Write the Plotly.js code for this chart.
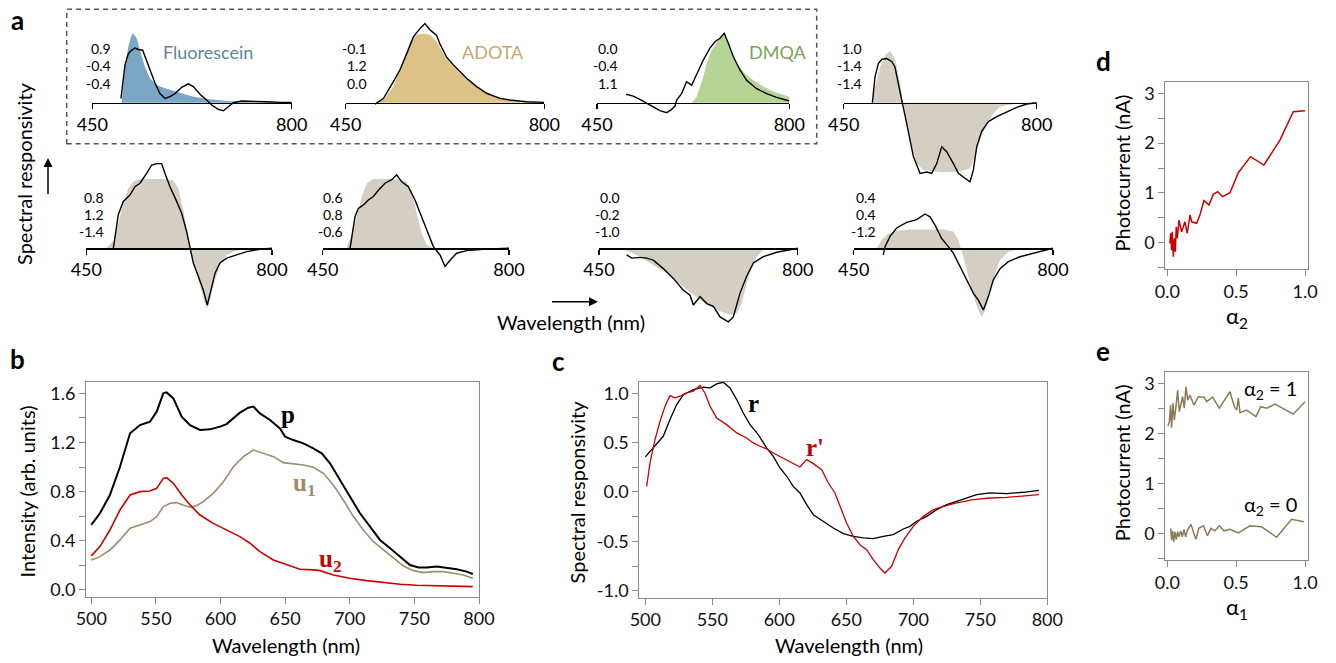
<!DOCTYPE html>
<html><head><meta charset="utf-8">
<script src="https://cdn.plot.ly/plotly-3.0.1.min.js"></script>
<style>html,body{margin:0;padding:0;background:#fff;}#plot{width:1336px;height:663px;}</style>
</head><body><div id="plot"></div>
<script>
// ---------------- DATA ----------------
// Panel b : wavelength (nm) and intensities
const wlP = [500,506.7,514.4,522.2,530,537.7,545.4,550.6,555.7,558.3,563.5,569.9,576.4,584.1,591.8,599.6,604.7,609.9,615,621.5,625.4,630.5,638.3,646,650,656.3,664.1,671.8,678.3,684.7,692.5,700.2,707.9,715.7,723.4,731.2,738.9,746.6,753.1,759.5,767.3,775,782.8,790.5,795.2];
const pVals = [0.529,0.624,0.773,1.003,1.275,1.342,1.369,1.451,1.6,1.608,1.559,1.41,1.342,1.302,1.307,1.329,1.35,1.397,1.443,1.483,1.492,1.437,1.383,1.315,1.247,1.22,1.193,1.153,1.112,1.031,0.895,0.759,0.624,0.515,0.407,0.339,0.271,0.203,0.182,0.182,0.19,0.182,0.168,0.149,0.13];
const wlU1 = [500,506.7,514.4,522.2,530,537.7,545.4,550.6,555.7,561,566,571,576.4,581.5,586.7,594.4,602.2,610,617.6,625.4,633,640.9,648.6,656.3,664.1,671.8,679.6,687.3,695,702.8,710.5,718.3,726,733.7,741.5,749.2,757,764.7,772.4,780.2,787.9,795.2];
const u1Vals = [0.244,0.271,0.325,0.407,0.502,0.529,0.556,0.597,0.678,0.705,0.711,0.692,0.673,0.686,0.719,0.786,0.881,1.003,1.085,1.139,1.112,1.085,1.036,1.025,1.017,0.998,0.949,0.854,0.732,0.597,0.488,0.393,0.325,0.258,0.195,0.157,0.141,0.149,0.149,0.136,0.122,0.095];
const wlU2 = [500,506.7,514.4,522.2,530,537.7,545.4,550.6,555.7,558.3,563.5,570,576.4,584.1,594.4,604.7,615,622.8,630.5,640.9,651.2,661.5,671.8,677,687.3,700,713,726,739,751.8,764.7,777.6,795.2];
const u2Vals = [0.277,0.353,0.488,0.651,0.773,0.8,0.805,0.827,0.908,0.914,0.868,0.773,0.692,0.61,0.542,0.488,0.434,0.38,0.312,0.244,0.203,0.168,0.163,0.157,0.122,0.095,0.076,0.06,0.046,0.038,0.035,0.035,0.027];

// Panel c : spectral responsivity r and r'
const wlR = [500,506,513.4,518.4,523.4,528.4,535.8,543.3,548.3,553.2,558.2,563.2,568.2,573.1,578.1,584.3,590.5,595.5,600.5,605.5,610.4,615.4,620.4,625.4,632.8,640.3,647.8,655.2,662.7,670.1,677.6,685,692.5,697.5,702.5,710,717.4,724.9,732.3,739.8,747.3,757.2,769.7,782,793.8];
const rVals = [0.355,0.446,0.564,0.733,0.885,0.986,1.037,1.061,1.054,1.095,1.111,1.054,0.936,0.8,0.682,0.581,0.446,0.361,0.243,0.159,0.057,-0.01,-0.128,-0.23,-0.297,-0.365,-0.422,-0.449,-0.466,-0.473,-0.449,-0.432,-0.375,-0.348,-0.297,-0.247,-0.179,-0.128,-0.095,-0.061,-0.027,-0.01,-0.017,-0.003,0.017];
const wlRp = [501,503.5,507.2,511,514.7,518.4,522.1,525.9,530.8,535.8,540.8,544.5,548.3,553.2,560.7,568.2,575.6,580.6,585.6,590.5,595.5,600.5,608,615.4,620.4,625.4,631.6,636.6,641.5,646.5,650.2,655.2,660.2,665.2,670.1,675.1,678.8,683.8,688.8,693.8,700,707.5,715,722.4,732.3,744.8,757.2,769.7,782,793.8];
const rpVals = [0.057,0.294,0.53,0.716,0.868,0.976,0.953,0.97,1.003,1.02,1.078,1.003,0.868,0.75,0.682,0.598,0.547,0.497,0.463,0.436,0.395,0.361,0.311,0.253,0.328,0.287,0.226,0.091,-0.01,-0.179,-0.314,-0.449,-0.534,-0.584,-0.686,-0.77,-0.821,-0.753,-0.584,-0.466,-0.348,-0.247,-0.179,-0.145,-0.111,-0.078,-0.061,-0.054,-0.037,-0.027];

// Panel d : photocurrent vs alpha2
const alpha2 = [0.019,0.024,0.031,0.036,0.044,0.051,0.058,0.065,0.073,0.085,0.104,0.128,0.145,0.165,0.177,0.213,0.237,0.266,0.303,0.334,0.366,0.402,0.455,0.516,0.605,0.702,0.818,0.915,1.0];
const curD = [-0.01,0.19,-0.15,0.22,-0.28,0.09,-0.18,0.32,0.09,0.455,0.22,0.42,0.19,0.556,0.42,0.39,0.556,0.844,0.757,0.971,1.025,0.924,1.004,1.406,1.728,1.56,2.06,2.63,2.65];

// Panel e : photocurrent vs alpha1
const alpha1Hi = [0.005,0.015,0.024,0.031,0.041,0.051,0.063,0.075,0.087,0.099,0.111,0.123,0.136,0.148,0.165,0.194,0.225,0.266,0.286,0.329,0.378,0.455,0.487,0.504,0.516,0.528,0.576,0.644,0.678,0.722,0.782,0.915,1.0];
const curHi = [2.15,2.24,2.57,2.12,2.61,2.27,2.54,2.87,2.44,2.57,2.74,2.51,2.94,2.67,2.77,2.57,2.74,2.73,2.64,2.73,2.51,2.84,2.54,2.47,2.71,2.42,2.47,2.34,2.54,2.51,2.59,2.39,2.64];
const alpha1Lo = [0.024,0.031,0.039,0.046,0.056,0.065,0.075,0.085,0.097,0.109,0.121,0.133,0.148,0.172,0.189,0.208,0.228,0.262,0.291,0.317,0.346,0.378,0.412,0.455,0.516,0.6,0.685,0.794,0.903,0.993];
const curLo = [0.1,-0.13,0.05,-0.17,0.03,-0.12,0.03,-0.07,0.05,-0.07,0.08,-0.07,0.07,0.18,0.03,-0.12,0.1,0.15,-0.05,0.1,0.05,0.15,0.05,0.08,0.01,0.15,0.13,-0.08,0.28,0.23];

// Panel a : eight small responsivity panels (fill = target, line = measured)
const a1FillX = [501.5,507.4,513.2,519,522,527.8,533.6,542.4,551.2,562.9,580.5,598,627.3,656.6,685.9,744,800];
const a1FillY = [0,0.51,0.80,0.97,0.99,0.92,0.75,0.51,0.35,0.25,0.2,0.157,0.086,0.048,0.024,0.01,0.005];
const a1LineX = [500.3,502.7,507.4,513.2,519,525,530.8,538.4,544,551,560,568.8,577.6,586.4,595.1,606.9,618.6,627.3,639,650.7,659.5,671.2,680,688.8,697.6,712,732.7,756,779.5,800];
const a1LineY = [0.06,0.23,0.54,0.70,0.75,0.78,0.76,0.75,0.63,0.47,0.28,0.13,0.06,0.086,0.13,0.22,0.27,0.23,0.12,0.038,-0.033,-0.095,-0.114,-0.057,0,0.024,0.024,0.014,0.005,0.005];
const a2FillX = [501.7,516.4,534,551.6,563.3,575,586.8,598.6,610.3,622,636.8,651.4,669,686.6,710,739.5,768.8,800];
const a2FillY = [0,0.04,0.23,0.61,0.87,0.97,0.99,0.97,0.87,0.70,0.54,0.42,0.3,0.19,0.1,0.038,0.014,0.005];
const a2LineX = [501.7,516.4,534,545.7,557.5,569.2,581,589.8,598.6,610.3,616,628,639.7,651.4,663,680.8,698.4,721.8,739.5,768.8,800];
const a2LineY = [-0.02,0.06,0.3,0.47,0.70,0.94,1.06,1.13,1.04,0.96,0.84,0.65,0.54,0.44,0.35,0.23,0.135,0.062,0.038,0.014,0.005];
const a3FillX = [622.3,631.4,643.5,649.6,658.7,667.8,676.9,683,692,704.2,716.3,734.5,752.7,770.9,789,799.5,800];
const a3FillY = [0,0.086,0.37,0.56,0.75,0.87,0.97,0.95,0.75,0.56,0.44,0.32,0.23,0.16,0.11,0.086,0];
const a3LineX = [502.8,516,528,540.4,552.5,564.6,576.8,585.9,592,595,604,613,622.3,631.4,643.5,655.6,664.7,673.8,681.7,689,698,710.2,722.3,740.5,758.8,777,800];
const a3LineY = [0.12,0.095,0.048,-0.01,-0.067,-0.114,-0.143,-0.095,-0.048,0.038,0.13,0.3,0.25,0.4,0.61,0.78,0.87,0.92,0.99,0.85,0.66,0.47,0.32,0.2,0.13,0.076,0.024];
const a4FillX = [500.8,506.8,515.9,525,534,543,552,558.2,564.3,573.3,582.4,594.5,624.7,655,679,688.2,697.3,709.4,721.5,733.6,757.7,800];
const a4FillY = [0.01,0.23,0.51,0.68,0.74,0.63,0.28,0,-0.30,-0.63,-0.87,-0.96,-0.99,-0.99,-0.94,-0.77,-0.53,-0.3,-0.15,-0.057,-0.019,0];
const a4LineX = [502,503.8,506.8,512.9,519,528,537,543,549,555.2,561.2,567.3,576.4,588.5,600.5,609.6,618.7,627.7,636.8,648.9,658,670,679,685.2,691.2,700.3,712.4,727.5,745.6,763.8,781.9,800];
const a4LineY = [0,0.18,0.37,0.56,0.62,0.63,0.59,0.51,0.3,0.038,-0.18,-0.44,-0.77,-1.01,-0.99,-1.01,-0.87,-0.63,-0.7,-0.87,-1.01,-1.08,-1.13,-0.96,-0.63,-0.41,-0.27,-0.2,-0.13,-0.067,-0.019,0];
const a5FillX = [488.3,500.9,510.3,519.7,529.2,538.6,551.2,576.3,601.4,614,623.4,632.9,642.3,648.6,658,667.4,673.7,678.1,683.1,692.5,702,714.5,733.4,764.8,800];
const a5FillY = [0.01,0.1,0.36,0.64,0.86,0.95,0.99,0.99,0.99,0.97,0.86,0.55,0.12,-0.12,-0.36,-0.6,-0.79,-0.86,-0.74,-0.45,-0.24,-0.095,-0.033,-0.014,0];
const a5LineX = [500.9,504,510.3,519.7,532.3,541.7,551.2,563.7,573.2,582.6,592,598.3,607.7,620.3,629.7,639.1,645.4,651.7,661.1,670.6,678.1,684.4,692.5,702,714.5,733.4,752.3,777.4,800];
const a5LineY = [0,0.17,0.48,0.67,0.76,0.88,0.93,1.07,1.19,1.21,1.21,1.07,0.88,0.67,0.5,0.24,0.024,-0.21,-0.4,-0.6,-0.81,-0.6,-0.36,-0.21,-0.14,-0.095,-0.048,-0.014,0];
const a6FillX = [495,504.5,513.9,523.3,532.6,545.2,570.2,595.3,607.8,617.2,626.6,636,645.4,657.9];
const a6FillY = [0.024,0.17,0.45,0.74,0.93,0.99,0.99,0.99,0.95,0.81,0.5,0.21,0.048,0];
const a6LineX = [501.3,504.5,510.7,517,526.4,535.8,545.2,554.6,567.1,579.6,589,598.4,610.9,623.4,636,648.5,657.9,670.4,679.8,689.2,701.7,720.5,751.8,800];
const a6LineY = [0,0.17,0.45,0.57,0.62,0.69,0.74,0.83,0.93,0.98,1.05,0.95,0.88,0.69,0.45,0.21,0.024,-0.095,-0.26,-0.17,-0.07,-0.033,-0.014,0];
const a7FillX = [487,510.5,539.8,569.2,598.6,628,657.3,680.8,692.5,701.3,710.1,719,727.8,739.5,757];
const a7FillY = [0,-0.07,-0.21,-0.36,-0.55,-0.74,-0.88,-0.95,-0.93,-0.79,-0.5,-0.29,-0.12,-0.024,0];
const a7LineX = [498.7,507.5,522.2,534,545.7,563.3,581,598.6,610.3,616.2,628,639.7,651.4,663.2,677.8,686.6,698.4,710.1,721.9,739.5,763,786.5,800];
const a7LineY = [-0.095,-0.14,-0.13,-0.14,-0.17,-0.29,-0.43,-0.6,-0.67,-0.81,-0.69,-0.79,-0.83,-0.98,-1.05,-0.98,-0.64,-0.4,-0.21,-0.12,-0.057,-0.014,0];
const a8FillX = [490.4,499.2,510.9,525.5,548.9,578.2,607.4,625,633.8,642.6,651.3,660.1,668.9,674.7,680.6,689.4,698.2,707,721.6,742,800];
const a8FillY = [0,0.12,0.21,0.25,0.27,0.27,0.27,0.24,0.12,-0.12,-0.4,-0.69,-0.88,-0.98,-0.9,-0.64,-0.36,-0.17,-0.048,-0.005,0];
const a8LineX = [502,505,513.8,525.5,543,560.6,575.2,584,592.8,604.5,616.2,625,636.7,648.4,660.1,668.9,677.7,686.5,695.2,707,721.6,742,765.5,800];
const a8LineY = [-0.095,0.024,0.17,0.29,0.37,0.41,0.49,0.45,0.33,0.14,0.024,-0.07,-0.26,-0.45,-0.64,-0.74,-0.88,-0.69,-0.45,-0.29,-0.19,-0.12,-0.071,0];

const coefLabels = [['0.9','-0.4','-0.4'],['-0.1','1.2','0.0'],['0.0','-0.4','1.1'],['1.0','-1.4','-1.4'],['0.8','1.2','-1.4'],['0.6','0.8','-0.6'],['0.0','-0.2','-1.0'],['0.4','0.4','-1.2']];
const dyeNames = ['Fluorescein','ADOTA','DMQA'];
const smallTicks = [450, 800];
const smallTickText = ['450', '800'];
const cTickVals = [-1, -0.5, 0, 0.5, 1];
const cTickText = ['-1.0', '-0.5', '0.0', '0.5', '1.0'];
const deTickVals = [0, 0.5, 1];
const deTickText = ['0.0', '0.5', '1.0'];

// ---------------- LAYOUT HELPERS ----------------
const W = 1336, H = 663;
const fx = p => p / W, fy = p => 1 - p / H;
const FONT = 'Lato, sans-serif';
const SERIF = '"Liberation Serif", "DejaVu Serif", serif';
const RED = '#cc0000', TAN = '#9c8d6c', ETAN = '#8c7a56';

const fillX = [a1FillX,a2FillX,a3FillX,a4FillX,a5FillX,a6FillX,a7FillX,a8FillX];
const fillY = [a1FillY,a2FillY,a3FillY,a4FillY,a5FillY,a6FillY,a7FillY,a8FillY];
const lineX = [a1LineX,a2LineX,a3LineX,a4LineX,a5LineX,a6LineX,a7LineX,a8LineX];
const lineY = [a1LineY,a2LineY,a3LineY,a4LineY,a5LineY,a6LineY,a7LineY,a8LineY];
const fillCol = ['#7ba6c5','#dcc286','#b7d497','#d5cfc3','#d5cfc3','#d5cfc3','#d5cfc3','#d5cfc3'];
const subPx = [[92.3,291.7],[345.7,544.3],[597,789.3],[843.7,1036.7],[86.3,272],[322.7,509],[599,797.7],[853.7,1053]];
const coefRight = [113.3,369.3,620,864,106,345.3,622.3,878.3];
const rowSpan = [[5,195],[150,340]];
const rowZero = [102.7, 248.3];
const coefRowY = [[48.3,65.7,83],[197.2,214.2,232]];
const UNIT = 70;

const traces = [];
const layout = {
  width: W, height: H, margin: {l:0, r:0, t:0, b:0},
  paper_bgcolor: '#fff', plot_bgcolor: 'rgba(0,0,0,0)',
  showlegend: false, font: {family: FONT, color: '#000'},
  annotations: [], shapes: []
};

function frameAxis(o) {
  return Object.assign({
    showline: true, mirror: true, linecolor: '#8a8a8a', linewidth: 1,
    ticks: 'outside', ticklen: 6, tickwidth: 1, tickcolor: '#8a8a8a',
    showgrid: false, zeroline: false, fixedrange: true,
    tickfont: {family: FONT, size: 18, color: '#111'}
  }, o);
}
const minorStyle = {ticks: 'outside', ticklen: 6, tickwidth: 1, tickcolor: '#8a8a8a', showgrid: false};

// Panel b
traces.push({x: wlU1, y: u1Vals, xaxis: 'x', yaxis: 'y', mode: 'lines', line: {color: TAN, width: 1.6}});
traces.push({x: wlU2, y: u2Vals, xaxis: 'x', yaxis: 'y', mode: 'lines', line: {color: RED, width: 1.6}});
traces.push({x: wlP, y: pVals, xaxis: 'x', yaxis: 'y', mode: 'lines', line: {color: '#000', width: 2}});
layout.xaxis = frameAxis({domain: [fx(86), fx(479)], range: [495.9, 800], tick0: 500, dtick: 50, anchor: 'y'});
layout.yaxis = frameAxis({domain: [fy(596.7), fy(381.7)], range: [-0.055, 1.695], tick0: 0, dtick: 0.4, tickformat: '.1f', anchor: 'x',
  minor: Object.assign({tick0: 0, dtick: 0.2}, minorStyle)});

// Panel c
traces.push({x: wlR, y: rVals, xaxis: 'x2', yaxis: 'y2', mode: 'lines', line: {color: '#000', width: 1.3}});
traces.push({x: wlRp, y: rpVals, xaxis: 'x2', yaxis: 'y2', mode: 'lines', line: {color: RED, width: 1.3}});
layout.xaxis2 = frameAxis({domain: [fx(639.3), fx(1047.3)], range: [495.5, 800], tick0: 500, dtick: 50, anchor: 'y2'});
layout.yaxis2 = frameAxis({domain: [fy(597.7), fy(381.7)], range: [-1.071, 1.117], tickmode: 'array', tickvals: cTickVals, ticktext: cTickText, anchor: 'x2',
  minor: Object.assign({tickmode: 'array', tickvals: [-0.75, -0.25, 0.25, 0.75]}, minorStyle)});

// Panel d
traces.push({x: alpha2, y: curD, xaxis: 'x3', yaxis: 'y3', mode: 'lines', line: {color: RED, width: 1.5}});
layout.xaxis3 = frameAxis({domain: [fx(1165.3), fx(1307.7)], range: [-0.0145, 1.0196], tickmode: 'array', tickvals: deTickVals, ticktext: deTickText, anchor: 'y3'});
layout.yaxis3 = frameAxis({domain: [fy(269.3), fy(81.7)], range: [-0.534, 3.233], tick0: 0, dtick: 1, anchor: 'x3',
  minor: Object.assign({tick0: 0, dtick: 0.5}, minorStyle)});

// Panel e
traces.push({x: alpha1Hi, y: curHi, xaxis: 'x4', yaxis: 'y4', mode: 'lines', line: {color: ETAN, width: 1.5}});
traces.push({x: alpha1Lo, y: curLo, xaxis: 'x4', yaxis: 'y4', mode: 'lines', line: {color: ETAN, width: 1.5}});
layout.xaxis4 = frameAxis({domain: [fx(1165.3), fx(1307.7)], range: [-0.0145, 1.0196], tickmode: 'array', tickvals: deTickVals, ticktext: deTickText, anchor: 'y4'});
layout.yaxis4 = frameAxis({domain: [fy(560), fy(372)], range: [-0.535, 3.235], tick0: 0, dtick: 1, anchor: 'x4',
  minor: Object.assign({tick0: 0, dtick: 0.5}, minorStyle)});

// Panel a small plots
for (let i = 0; i < 8; i++) {
  const n = i + 5, row = i < 4 ? 0 : 1;
  const span = rowSpan[row], zero = rowZero[row];
  traces.push({x: fillX[i], y: fillY[i], xaxis: 'x' + n, yaxis: 'y' + n, mode: 'lines',
    line: {width: 0, color: fillCol[i]}, fill: 'tozeroy', fillcolor: fillCol[i], hoverinfo: 'skip'});
  traces.push({x: lineX[i], y: lineY[i], xaxis: 'x' + n, yaxis: 'y' + n, mode: 'lines',
    line: {width: 1.4, color: '#000'}});
  layout['xaxis' + n] = {domain: [fx(subPx[i][0]), fx(subPx[i][1])], range: [450, 800], anchor: 'free', position: fy(zero),
    showline: true, linecolor: '#000', linewidth: 1.2, ticks: 'outside', ticklen: 5, tickwidth: 1.2, tickcolor: '#000',
    tickmode: 'array', tickvals: smallTicks, ticktext: smallTickText, tickfont: {family: FONT, size: 18, color: '#000'},
    showgrid: false, zeroline: false, fixedrange: true};
  layout['yaxis' + n] = {domain: [fy(span[1]), fy(span[0])], range: [-(span[1] - zero) / UNIT, (zero - span[0]) / UNIT],
    anchor: 'x' + n, visible: false, showgrid: false, zeroline: false, fixedrange: true};
  for (let k = 0; k < 3; k++) {
    layout.annotations.push({text: coefLabels[i][k], xref: 'paper', yref: 'paper', x: fx(coefRight[i]), y: fy(coefRowY[row][k]),
      xanchor: 'right', yanchor: 'middle', showarrow: false, font: {family: FONT, size: 14, color: '#000'}});
  }
}

function txt(text, px, py, size, opts) {
  layout.annotations.push(Object.assign({text: text, xref: 'paper', yref: 'paper', x: fx(px), y: fy(py),
    xanchor: 'center', yanchor: 'middle', showarrow: false, font: {family: FONT, size: size, color: '#000'}}, opts || {}));
}
// dye names
txt(dyeNames[0], 207.7, 51.7, 18, {font: {family: FONT, size: 18, color: '#5f83a0'}});
txt(dyeNames[1], 493.3, 52, 18, {font: {family: FONT, size: 18, color: '#c7a86c'}});
txt(dyeNames[2], 777.4, 52, 18, {font: {family: FONT, size: 18, color: '#7aa656'}});

// panel letters
const letterFont = {family: FONT, size: 26, color: '#000'};
txt('<b>a</b>', 17.5, 20, 26, {font: letterFont});
txt('<b>b</b>', 17, 359, 26, {font: letterFont});
txt('<b>c</b>', 558, 361, 26, {font: letterFont});
txt('<b>d</b>', 1103, 61, 26, {font: letterFont});
txt('<b>e</b>', 1103, 351, 26, {font: letterFont});

// axis titles
txt('Spectral responsivity', 24, 174, 20, {textangle: -90});
txt('Wavelength (nm)', 571, 321.7, 20);
txt('Wavelength (nm)', 286.3, 645, 20);
txt('Intensity (arb. units)', 26.7, 491.7, 20, {textangle: -90});
txt('Wavelength (nm)', 849, 645, 20);
txt('Spectral responsivity', 576.7, 491.7, 20, {textangle: -90});
txt('α<sub>2</sub>', 1236.7, 300, 22, {yanchor: 'top'});
txt('Photocurrent (nA)', 1121.7, 172.7, 20, {textangle: -90});
txt('α<sub>1</sub>', 1236.7, 591, 22, {yanchor: 'top'});
txt('Photocurrent (nA)', 1121.7, 462.5, 20, {textangle: -90});
txt('α<sub>2</sub> = 1', 1270.7, 389, 20);
txt('α<sub>2</sub> = 0', 1270.7, 506, 20);

// curve labels
txt('<b>p</b>', 288.3, 414, 25, {font: {family: SERIF, size: 25, color: '#000'}});
txt('<b>u<sub>1</sub></b>', 304, 484, 25, {font: {family: SERIF, size: 25, color: TAN}});
txt('<b>u<sub>2</sub></b>', 330, 560, 25, {font: {family: SERIF, size: 25, color: RED}});
txt('<b>r</b>', 753.3, 404, 25, {font: {family: SERIF, size: 25, color: '#000'}});
txt("<b>r'</b>", 815, 447, 25, {font: {family: SERIF, size: 25, color: '#c00000'}});

// arrows
layout.annotations.push({text: ' ', xref: 'paper', yref: 'paper', x: fx(48), y: fy(158), ax: 0, ay: 40,
  showarrow: true, arrowhead: 2, arrowsize: 1.2, arrowwidth: 1.5, arrowcolor: '#000', font: {size: 4}});
layout.annotations.push({text: ' ', xref: 'paper', yref: 'paper', x: fx(598), y: fy(301.7), ax: -48, ay: 0,
  showarrow: true, arrowhead: 2, arrowsize: 1.2, arrowwidth: 1.5, arrowcolor: '#000', font: {size: 4}});

// dashed box around dye panels
layout.shapes.push({type: 'rect', xref: 'paper', yref: 'paper', x0: fx(66.7), x1: fx(816.7), y0: fy(143.7), y1: fy(9.3),
  line: {color: '#555', width: 1.5, dash: '5px,4px'}, fillcolor: 'rgba(0,0,0,0)'});

Plotly.newPlot('plot', traces, layout, {displayModeBar: false, staticPlot: true});
</script></body></html>
